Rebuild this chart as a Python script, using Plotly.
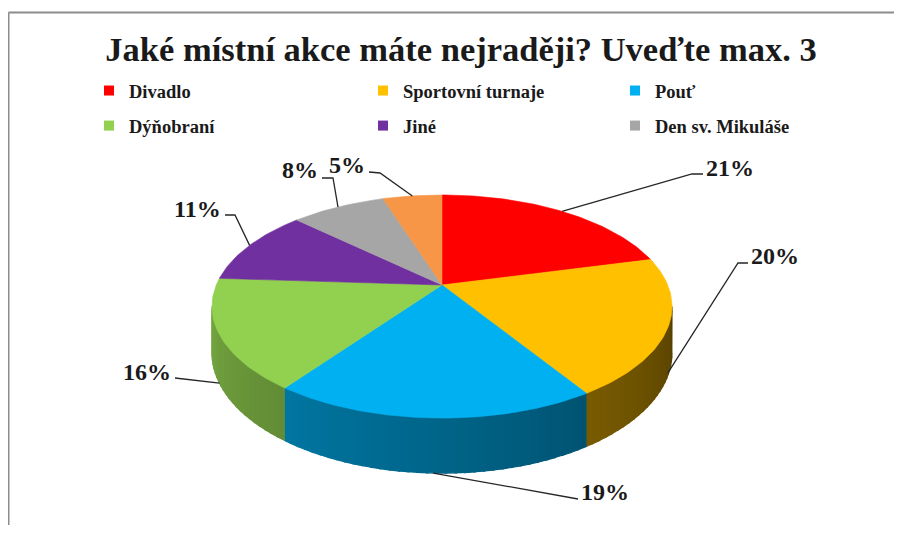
import math
import numpy as np
import plotly.graph_objects as go

# ---------------- data ----------------
CATEGORIES = ["Divadlo", "Sportovní turnaje", "Pouť", "Dýňobraní", "Jiné",
              "Den sv. Mikuláše", "Ostatní"]
VALUES = [21, 20, 19, 16, 11, 8, 5]
IN_LEGEND = [True, True, True, True, True, True, False]
TITLE = "Jaké místní akce máte nejraději? Uveďte max. 3"

# ---------------- style ----------------
TOP_COLORS = ["#ff0000", "#ffc000", "#00b0f0", "#92d050", "#7030a0", "#a6a6a6", "#f79646"]
FONT = "Liberation Serif"
OFF = 8                                # page body margin
W, H = 902 - OFF, 533 - 2 * OFF        # figure size so that it fits the window

# 3D pie projection (page pixel space)
CX, CY = 442.0, 285.0      # projected centre of the pie
A, B = 225.7, 107.4        # horizontal / vertical scale
K = 0.193                  # perspective factor (front larger)
D = 44.4                   # thickness

# label placement: (text x, text y, xanchor, depth fraction of start, path points to label)
LABEL_LAYOUT = [
    (704, 168, "left",  0.0,  [(692, 174), (703, 174)]),
    (749, 256, "left",  0.95, [(738, 263), (748, 263)]),
    (579, 492, "left",  1.0,  [(578, 499)]),
    (173, 372, "right", 1.0,  [(175, 378)]),
    (223, 209, "right", 0.0,  [(235, 215), (225, 215)]),
    (320, 170, "right", 0.0,  [(333, 178), (322, 178)]),
    (367, 165, "right", 0.0,  [(380, 173), (369, 172)]),
]
# legend columns (page pixel x of legend box) and top
LEG_X = [89, 363, 615]
LEG_TOP = 72


def px(xp):
    return (xp - OFF) / W


def py(yp):
    return 1 - (yp - OFF) / H


def proj(theta_deg, r=1.0, z=0.0):
    t = np.radians(theta_deg)
    u = r * np.sin(t)
    v = -r * np.cos(t)
    den = 1 - K * v
    return CX + A * u / den, CY + (B * v + D * z) / den


def shade(hex_color, f):
    h = hex_color.lstrip("#")
    r, g, b = (int(h[i:i + 2], 16) for i in (0, 2, 4))
    return "rgb(%d,%d,%d)" % (r * f, g * f, b * f)


fig = go.Figure()

total = float(sum(VALUES))
starts = np.cumsum([0] + VALUES[:-1]) / total * 360.0
ends = np.cumsum(VALUES) / total * 360.0

side_lo = math.degrees(math.acos(-K))
side_hi = 360.0 - side_lo

# side faces (visible front part), shaded in strips
for i, (a0, a1) in enumerate(zip(starts, ends)):
    lo, hi = max(a0, side_lo), min(a1, side_hi)
    if lo >= hi:
        continue
    n = max(1, int(math.ceil((hi - lo) / 2.0)))
    edges = np.linspace(lo, hi, n + 1)
    for j in range(n):
        s0, s1 = edges[j], min(edges[j + 1] + 0.4, hi)
        th = np.linspace(s0, s1, 4)
        xt, yt = proj(th)
        xb, yb = proj(th[::-1], z=1.0)
        mid = 0.5 * (edges[j] + edges[j + 1])
        f = 0.34 + (mid - side_lo) / (side_hi - side_lo) * 0.46
        col = shade(TOP_COLORS[i], f)
        fig.add_trace(go.Scatter(
            x=np.concatenate([xt, xb]), y=np.concatenate([yt, yb]),
            mode="lines", fill="toself", fillcolor=col,
            line=dict(color=col, width=1.2), showlegend=False, hoverinfo="skip"))

# top faces
for i, (a0, a1) in enumerate(zip(starts, ends)):
    th = np.linspace(a0, a1, max(8, int(a1 - a0)))
    xr, yr = proj(th)
    fig.add_trace(go.Scatter(
        x=np.concatenate([[CX], xr, [CX]]), y=np.concatenate([[CY], yr, [CY]]),
        mode="lines", fill="toself", fillcolor=TOP_COLORS[i],
        line=dict(color=TOP_COLORS[i], width=0.6), showlegend=False,
        name=CATEGORIES[i], hoverinfo="name"))

# leader lines + labels
for i, (a0, a1) in enumerate(zip(starts, ends)):
    tx, ty, xa, zf, path = LABEL_LAYOUT[i]
    mid = 0.5 * (a0 + a1)
    sx, sy = proj(mid, z=zf)
    xs = [sx] + [p[0] for p in path]
    ys = [sy] + [p[1] for p in path]
    fig.add_trace(go.Scatter(x=xs, y=ys, mode="lines",
                             line=dict(color="#262626", width=1.3),
                             showlegend=False, hoverinfo="skip"))
    fig.add_annotation(x=tx, y=ty, xref="x", yref="y", text="%d%%" % VALUES[i],
                       showarrow=False, xanchor=xa, yanchor="middle",
                       font=dict(family=FONT, size=24, color="#1a1a1a", weight="bold"))

# legend entries (3 columns x 2 rows)
legend_names = ["legend", "legend2", "legend3"]
for i, name in enumerate(CATEGORIES):
    if not IN_LEGEND[i]:
        continue
    fig.add_trace(go.Scatter(
        x=[None], y=[None], mode="markers", name=name,
        marker=dict(symbol="square", size=10, color=TOP_COLORS[i]),
        legend=legend_names[i % 3], legendgroup="g%d" % i, showlegend=True))

leg_common = dict(font=dict(family=FONT, size=18.5, color="#1a1a1a", weight="bold"),
                  orientation="v", xanchor="left", yanchor="top",
                  bgcolor="rgba(0,0,0,0)", borderwidth=0, tracegroupgap=8,
                  itemwidth=30)
layout_legends = {}
for c, lname in enumerate(legend_names):
    layout_legends[lname] = dict(leg_common, x=px(LEG_X[c]), y=py(LEG_TOP))

border = dict(color="#8c8c8c", width=2)
fig.update_layout(
    width=W, height=H, autosize=False,
    margin=dict(l=0, r=0, t=0, b=0),
    paper_bgcolor="white", plot_bgcolor="white",
    xaxis=dict(range=[OFF, OFF + W], visible=False, fixedrange=True),
    yaxis=dict(range=[OFF + H, OFF], visible=False, fixedrange=True),
    title=dict(text=TITLE, x=px(461), y=py(49), xanchor="center", yanchor="middle",
               font=dict(family=FONT, size=34.5, color="#1a1a1a", weight="bold")),
    showlegend=True,
    shapes=[dict(type="line", xref="x", yref="y", x0=8.5, y0=12.5, x1=OFF + W + 20,
                 y1=12.5, line=border, layer="below"),
            dict(type="line", xref="x", yref="y", x0=8.5, y0=12.5, x1=8.5,
                 y1=OFF + H + 20, line=border, layer="below")],
    **layout_legends,
)

fig.write_html("out.html", config={"displayModeBar": False})
